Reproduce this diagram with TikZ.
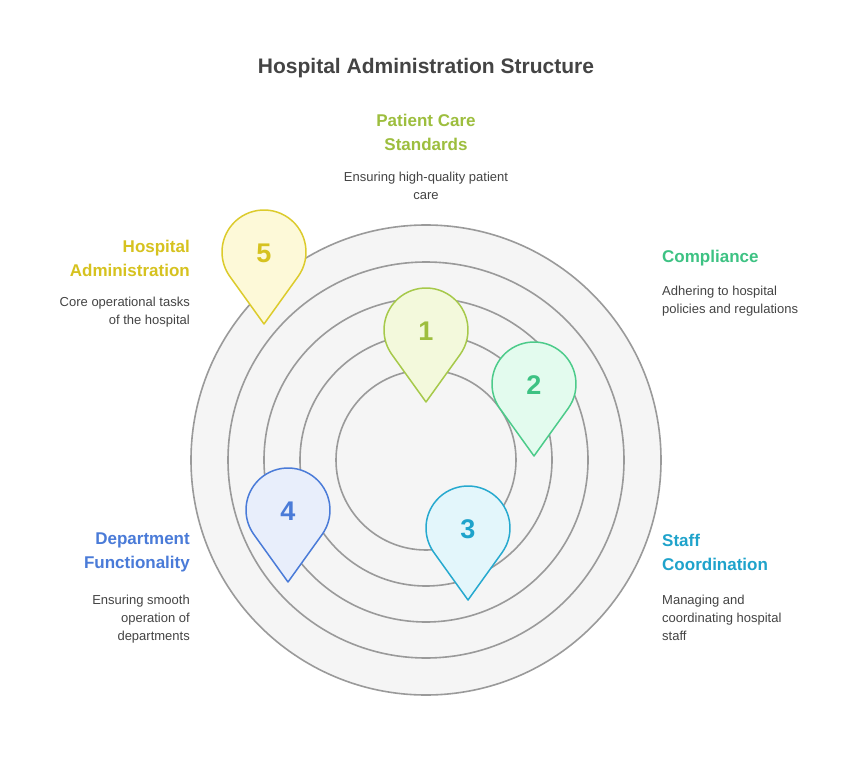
\documentclass[tikz,border=0pt]{standalone}
\usepackage{fontspec}
\setmainfont{Liberation Sans}
\definecolor{c1s}{HTML}{A6C94A}\definecolor{c1f}{HTML}{F3F9DC}\definecolor{c1t}{HTML}{9DBE3E}
\definecolor{c2s}{HTML}{4CCB8A}\definecolor{c2f}{HTML}{E3FBEE}\definecolor{c2t}{HTML}{3DC283}
\definecolor{c3s}{HTML}{26A9CF}\definecolor{c3f}{HTML}{E3F6FB}\definecolor{c3t}{HTML}{1FA3CB}
\definecolor{c4s}{HTML}{4A7BD8}\definecolor{c4f}{HTML}{E8EEFB}\definecolor{c4t}{HTML}{4A7BD8}
\definecolor{c5s}{HTML}{DCCB2C}\definecolor{c5f}{HTML}{FDF9D8}\definecolor{c5t}{HTML}{D6C21F}
\definecolor{ring}{HTML}{9A9A9A}\definecolor{ringf}{HTML}{F5F5F5}\definecolor{txt}{HTML}{444444}
\tikzset{
 ringc/.style={draw=ring,fill=ringf,line width=1.6pt},
 head/.style={font=\bfseries\fontsize{17}{24}\selectfont,inner sep=0pt},
 desc/.style={font=\fontsize{13}{18}\selectfont,text=txt,inner sep=0pt},
 num/.style={font=\bfseries\fontsize{27}{30}\selectfont,inner sep=0pt}
}
\begin{document}
\begin{tikzpicture}[x=1pt,y=-1pt]
\useasboundingbox[fill=white] (0,0) rectangle (852,768);
\node[font=\bfseries\fontsize{21}{24}\selectfont,text=txt] (title) at (426,68) {Hospital Administration Structure};
\foreach \r/\n in {235/r5,198/r4,162/r3,126/r2,90/r1}{\node[ringc,circle,minimum size=2*\r pt,inner sep=0pt] (\n) at (426,460) {};}
\newcommand{\pin}[6]{%
 \begin{scope}[shift={(#1,#2)},x=1pt,y=1pt]
 \draw[draw=#3,fill=#4,line width=1.5pt,line join=round] (0,-72) -- (-35.7:42) arc[start angle=-35.7,end angle=215.7,radius=42] -- cycle;
 \end{scope}
 \node[num,text=#5] (#6) at (#1,#2+1) {#6};}
\pin{426}{330}{c1s}{c1f}{c1t}{1}
\pin{534}{384}{c2s}{c2f}{c2t}{2}
\pin{468}{528}{c3s}{c3f}{c3t}{3}
\pin{288}{510}{c4s}{c4f}{c4t}{4}
\pin{264}{252}{c5s}{c5f}{c5t}{5}
\node[head,text=c1t,align=center] (h1) at (426,132) {Patient Care\\Standards};
\node[desc,align=center] (d1) at (426,186) {Ensuring high-quality patient\\care};
\node[head,text=c2t,anchor=west] (h2) at (662,258) {Compliance};
\node[desc,align=left,anchor=north west] (d2) at (662,286) {Adhering to hospital\\policies and regulations};
\node[head,text=c3t,align=left,anchor=west] (h3) at (662,552) {Staff\\Coordination};
\node[desc,align=left,anchor=north west] (d3) at (662,595) {Managing and\\coordinating hospital\\staff};
\node[head,text=c4t,align=right,anchor=east] (h4) at (190,552) {Department\\Functionality};
\node[desc,align=right,anchor=north east] (d4) at (190,595) {Ensuring smooth\\operation of\\departments};
\node[head,text=c5t,align=right,anchor=east] (h5) at (190,258) {Hospital\\Administration};
\node[desc,align=right,anchor=north east] (d5) at (190,297) {Core operational tasks\\of the hospital};
\end{tikzpicture}
\end{document}
